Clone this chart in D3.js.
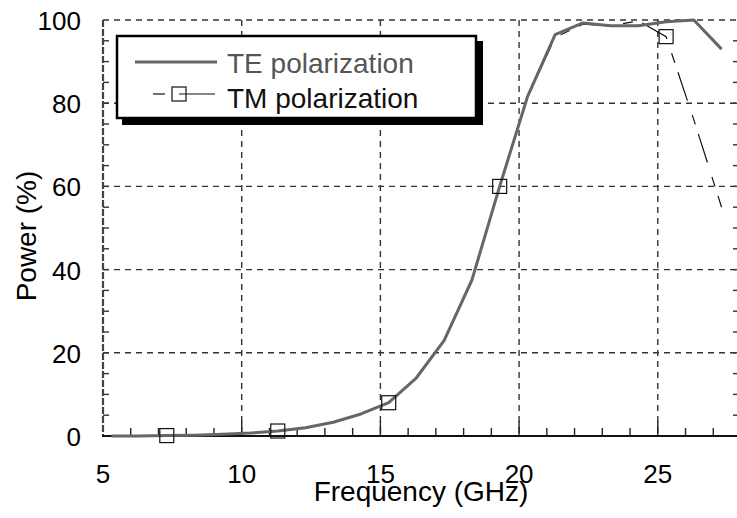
<!DOCTYPE html>
<html>
<head>
<meta charset="utf-8">
<script src="https://cdn.jsdelivr.net/npm/d3@7"></script>
<style>
  body { margin: 0; background: #fff; }
  svg { display: block; font-family: "Liberation Sans", Arial, Helvetica, sans-serif; }
  .grid line { stroke: #333; stroke-width: 1.4; stroke-dasharray: 6,5; }
</style>
</head>
<body>
<div id="chart"></div>
<script>
// frequency samples (GHz)
const freq = [5.3, 6.3, 7.3, 8.3, 9.3, 10.3, 11.3, 12.3, 13.3, 14.3, 15.3, 16.3,
  17.3, 18.3, 19.3, 20.3, 21.3, 22.3, 23.3, 24.3, 25.3, 26.3, 27.3];
// power (%)
const tePower = [0, 0, 0.1, 0.2, 0.4, 0.7, 1.2, 2.0, 3.3, 5.3, 8.0, 14,
  23, 37.5, 60, 81.5, 96.5, 99.3, 98.6, 98.6, 99.6, 100, 93];
const tmPower = [0, 0, 0.1, 0.2, 0.4, 0.7, 1.2, 2.0, 3.3, 5.3, 8.0, 14,
  23, 37.5, 60, 81.5, 95.8, 99.0, 98.6, 99.8, 96, 76, 55];
// which TM samples carry a square marker
const tmMarkerIdx = [2, 6, 10, 14, 20];
const xTicks = [5, 10, 15, 20, 25];
const yTicks = [0, 20, 40, 60, 80, 100];
const seriesNames = ['TE polarization', 'TM polarization'];

const W = 737, H = 518;
const x = d3.scaleLinear().domain([5, 28]).range([103, 741]);
const y = d3.scaleLinear().domain([0, 100]).range([436, 20]);

const svg = d3.select('#chart').append('svg')
  .attr('width', W)
  .attr('height', H);

// Grid
const grid = svg.append('g').attr('class', 'grid');
grid.selectAll('.vg')
  .data(xTicks.filter(d => d > 5))
  .enter().append('line')
  .attr('x1', d => x(d)).attr('x2', d => x(d))
  .attr('y1', y(100)).attr('y2', y(0));
grid.selectAll('.hg')
  .data(yTicks.filter(d => d > 0))
  .enter().append('line')
  .attr('x1', x(5)).attr('x2', W)
  .attr('y1', d => y(d)).attr('y2', d => y(d));

// Minor ticks: bottom (every 1 GHz), left and right (every 5 %)
const xMinor = d3.range(6, 28, 1);
svg.append('g').selectAll('line')
  .data(xMinor)
  .enter().append('line')
  .attr('x1', d => x(d)).attr('x2', d => x(d))
  .attr('y1', y(0)).attr('y2', d => y(0) - (d % 5 === 0 ? 15 : 8))
  .attr('stroke', '#222').attr('stroke-width', 1.4);
const yMinor = d3.range(5, 100, 5);
svg.append('g').selectAll('line')
  .data(yMinor)
  .enter().append('line')
  .attr('x1', x(5)).attr('x2', x(5) + 6)
  .attr('y1', d => y(d)).attr('y2', d => y(d))
  .attr('stroke', '#333').attr('stroke-width', 1.4);
svg.append('g').selectAll('line')
  .data(yMinor)
  .enter().append('line')
  .attr('x1', 733).attr('x2', W)
  .attr('y1', d => y(d)).attr('y2', d => y(d))
  .attr('stroke', '#333').attr('stroke-width', 1.4);

// Axis lines
svg.append('line')
  .attr('x1', x(5)).attr('x2', x(5))
  .attr('y1', y(100)).attr('y2', y(0))
  .attr('stroke', '#444').attr('stroke-width', 2.2)
  .attr('stroke-dasharray', '7,2');
svg.append('line')
  .attr('x1', x(5) - 1).attr('x2', W)
  .attr('y1', y(0)).attr('y2', y(0))
  .attr('stroke', '#111').attr('stroke-width', 2);

// Tick labels
svg.append('g').selectAll('text')
  .data(xTicks)
  .enter().append('text')
  .attr('x', d => x(d))
  .attr('y', 483)
  .attr('text-anchor', 'middle')
  .attr('font-size', 26)
  .text(d => d);
svg.append('g').selectAll('text')
  .data(yTicks)
  .enter().append('text')
  .attr('x', 81)
  .attr('y', d => y(d) + 10)
  .attr('text-anchor', 'end')
  .attr('font-size', 26)
  .text(d => d);

// Axis titles
svg.append('text')
  .attr('x', 421).attr('y', 501)
  .attr('text-anchor', 'middle')
  .attr('font-size', 28)
  .text('Frequency (GHz)');
svg.append('text')
  .attr('transform', 'translate(36,236) rotate(-90)')
  .attr('text-anchor', 'middle')
  .attr('font-size', 28)
  .text('Power (%)');

// Series
const tmData = freq.map((f, i) => ({ f: f, p: tmPower[i] }));
const teData = freq.map((f, i) => ({ f: f, p: tePower[i] }));
const line = d3.line().x(d => x(d.f)).y(d => y(d.p));

svg.append('path')
  .datum(tmData)
  .attr('d', line)
  .attr('fill', 'none')
  .attr('stroke', '#111')
  .attr('stroke-width', 1.2)
  .attr('stroke-dasharray', '30,15,10,10');
svg.append('path')
  .datum(teData)
  .attr('d', line)
  .attr('fill', 'none')
  .attr('stroke', '#666')
  .attr('stroke-width', 3)
  .attr('stroke-linejoin', 'round');
svg.append('g').selectAll('rect')
  .data(tmMarkerIdx.map(i => tmData[i]))
  .enter().append('rect')
  .attr('x', d => x(d.f) - 7)
  .attr('y', d => y(d.p) - 7)
  .attr('width', 14).attr('height', 14)
  .attr('fill', 'none')
  .attr('stroke', '#111')
  .attr('stroke-width', 1.2);

// Legend
const lg = svg.append('g');
lg.append('rect')
  .attr('x', 122).attr('y', 41)
  .attr('width', 361).attr('height', 84)
  .attr('fill', '#000');
lg.append('rect')
  .attr('x', 117).attr('y', 36)
  .attr('width', 359).attr('height', 82)
  .attr('fill', '#fff')
  .attr('stroke', '#000')
  .attr('stroke-width', 2.5);
lg.append('line')
  .attr('x1', 135).attr('x2', 217)
  .attr('y1', 62).attr('y2', 62)
  .attr('stroke', '#666').attr('stroke-width', 3);
lg.append('line')
  .attr('x1', 153).attr('x2', 165)
  .attr('y1', 94).attr('y2', 94)
  .attr('stroke', '#111').attr('stroke-width', 1.2);
lg.append('line')
  .attr('x1', 179).attr('x2', 215)
  .attr('y1', 94).attr('y2', 94)
  .attr('stroke', '#111').attr('stroke-width', 1.2);
lg.append('rect')
  .attr('x', 172).attr('y', 87)
  .attr('width', 14).attr('height', 14)
  .attr('fill', 'none')
  .attr('stroke', '#111').attr('stroke-width', 1.2);
lg.selectAll('text')
  .data(seriesNames)
  .enter().append('text')
  .attr('x', 227)
  .attr('y', (d, i) => 73 + i * 35)
  .attr('font-size', 28)
  .attr('fill', (d, i) => i === 0 ? '#555' : '#111')
  .text(d => d);
</script>
</body>
</html>
